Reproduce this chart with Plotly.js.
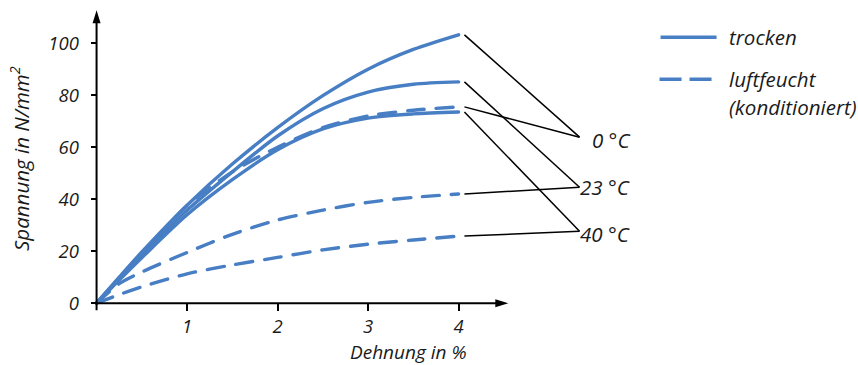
<!DOCTYPE html>
<html>
<head>
<meta charset="utf-8">
<script src="https://cdn.plot.ly/plotly-3.0.1.min.js"></script>
<style>
  html, body { margin: 0; padding: 0; background: #ffffff; }
  #chart { width: 858px; height: 365px; }
  #chart .scatterlayer path.js-line { stroke-linecap: round; stroke-linejoin: round; }
</style>
</head>
<body>
<div id="chart"></div>
<script>
// ---- data ----
const strain = [0, 0.25, 0.5, 1, 1.5, 2, 2.5, 3, 3.5, 4];          // Dehnung in %
const dry0   = [0, 10.0, 19.7, 37.7, 53.5, 67.5, 79.8, 90.0, 97.6, 103.2];
const dry23  = [0, 9.4, 18.5, 35.7, 50.5, 64.3, 74.8, 81.2, 84.2, 85.1];
const dry40  = [0, 8.9, 17.5, 34.0, 47.5, 59.0, 67.0, 71.2, 72.8, 73.5];
const wet0   = [0, 9.7, 19.0, 37.5, 50.5, 60.0, 67.5, 72.0, 74.2, 75.5];
const wet23  = [0, 7.5, 12.0, 19.5, 26.5, 32.0, 35.8, 38.8, 40.7, 42.0];
const wet40  = [0, 3.3, 6.3, 11.3, 14.7, 17.6, 20.5, 22.7, 24.3, 25.8];
const tempLabels = ['0 °C', '23 °C', '40 °C'];
const legendLabels = ['trocken', 'luftfeucht', '(konditioniert)'];
const xTickVals = [1, 2, 3, 4];
const yTickVals = [0, 20, 40, 60, 80, 100];
const xTitle = 'Dehnung in %';
const yTitle = 'Spannung in N/mm<sup>2</sup>';

// ---- styling ----
const BLUE = '#477ec4';
const FAMILY = 'Open Sans, Noto Sans, sans-serif';
const FONT = {family: FAMILY, size: 20.5, color: '#1a1a1a', style: 'italic'};
const dryGroups = [dry0, dry23, dry40];
const wetGroups = [wet0, wet23, wet40];

const traces = [];
dryGroups.forEach((ys, i) => traces.push({
  x: strain, y: ys, type: 'scatter', mode: 'lines', name: 'trocken ' + tempLabels[i],
  line: {color: BLUE, width: 3.4, shape: 'spline', smoothing: 0.8}, hoverinfo: 'skip'
}));
wetGroups.forEach((ys, i) => traces.push({
  x: strain, y: ys, type: 'scatter', mode: 'lines', name: 'luftfeucht ' + tempLabels[i],
  line: {color: BLUE, width: 3.4, shape: 'spline', smoothing: 0.8, dash: '17px,12px'}, hoverinfo: 'skip'
}));

// layout geometry
const xr = [-0.15, 8.414];
const yr = [-3, 116.6];
const labelX = 5.337;            // where leader lines meet
const labelY = [63.85, 44.6, 27.7];
const textY = [62.7, 44.6, 26.5];
const lastX = strain[strain.length - 1];

const shapes = [];
// axes with arrows (y axis runs slightly below 0, like a tick at the origin)
shapes.push({type: 'line', xref: 'x', yref: 'y', x0: 0, y0: 0, x1: 4.45, y1: 0, line: {color: '#000', width: 2}});
shapes.push({type: 'path', xref: 'x', yref: 'y', xsizemode: 'pixel', ysizemode: 'pixel', xanchor: 4.55, yanchor: 0,
  path: 'M -13 -4 L 0 0 L -13 4 Z', fillcolor: '#000', line: {width: 0}});
shapes.push({type: 'line', xref: 'x', yref: 'y', x0: 0, y0: -2.7, x1: 0, y1: 108, line: {color: '#000', width: 2}});
shapes.push({type: 'path', xref: 'x', yref: 'y', xsizemode: 'pixel', ysizemode: 'pixel', xanchor: 0, yanchor: 112.7,
  path: 'M -4 -13 L 0 0 L 4 -13 Z', fillcolor: '#000', line: {width: 0}});
// leader lines from curve ends to labels
[dryGroups, wetGroups].forEach(group => group.forEach((ys, i) => {
  shapes.push({type: 'line', xref: 'x', yref: 'y', x0: lastX + 0.065, y0: ys[ys.length - 1],
    x1: labelX, y1: labelY[i], line: {color: '#000', width: 1.5}});
}));
// legend samples
shapes.push({type: 'line', xref: 'x', yref: 'y', x0: 6.232, y0: 102.3, x1: 6.851, y1: 102.3, line: {color: BLUE, width: 3.6}});
shapes.push({type: 'line', xref: 'x', yref: 'y', x0: 6.221, y0: 86.15, x1: 6.796, y1: 86.15, line: {color: BLUE, width: 3.6, dash: '22px,8px'}});

const annotations = [];
tempLabels.forEach((t, i) => annotations.push({x: 5.912, y: textY[i], xref: 'x', yref: 'y', text: t,
  showarrow: false, xanchor: 'right', yanchor: 'middle', font: FONT}));
annotations.push({x: 6.961, y: 102.3, text: legendLabels[0], showarrow: false, xanchor: 'left', yanchor: 'middle', font: FONT});
annotations.push({x: 6.961, y: 86.15, text: legendLabels[1], showarrow: false, xanchor: 'left', yanchor: 'middle', font: FONT});
annotations.push({x: 6.961, y: 75.4, text: legendLabels[2], showarrow: false, xanchor: 'left', yanchor: 'middle', font: FONT});
annotations.push({x: 0.4194, y: -0.1334, xref: 'paper', yref: 'paper', text: xTitle, showarrow: false,
  xanchor: 'center', yanchor: 'middle', font: Object.assign({}, FONT, {size: 19})});
annotations.push({x: -0.0813, y: 0.492, xref: 'paper', yref: 'paper', text: yTitle, showarrow: false,
  textangle: -90, xanchor: 'center', yanchor: 'middle', font: FONT});

const tickFont = {family: FAMILY, size: 18.5, color: '#1a1a1a', style: 'italic'};
const layout = {
  width: 858, height: 365,
  margin: {l: 83, r: 0, t: 0, b: 54, pad: 0},
  paper_bgcolor: '#ffffff', plot_bgcolor: '#ffffff',
  showlegend: false,
  xaxis: {range: xr, tickmode: 'array', tickvals: xTickVals,
    ticks: 'outside', ticklen: 7, tickwidth: 2, tickcolor: '#000', ticklabelstandoff: 0,
    showgrid: false, zeroline: false, showline: false, fixedrange: true,
    anchor: 'free', position: (0 - yr[0]) / (yr[1] - yr[0]), tickfont: tickFont},
  yaxis: {range: yr, tickmode: 'array', tickvals: yTickVals,
    ticks: 'outside', ticklen: 6, tickwidth: 2, tickcolor: '#000', ticklabelstandoff: 8,
    showgrid: false, zeroline: false, showline: false, fixedrange: true,
    anchor: 'free', position: (0 - xr[0]) / (xr[1] - xr[0]), tickfont: tickFont},
  shapes: shapes,
  annotations: annotations
};

Plotly.newPlot('chart', traces, layout, {staticPlot: true, displayModeBar: false});
</script>
</body>
</html>
